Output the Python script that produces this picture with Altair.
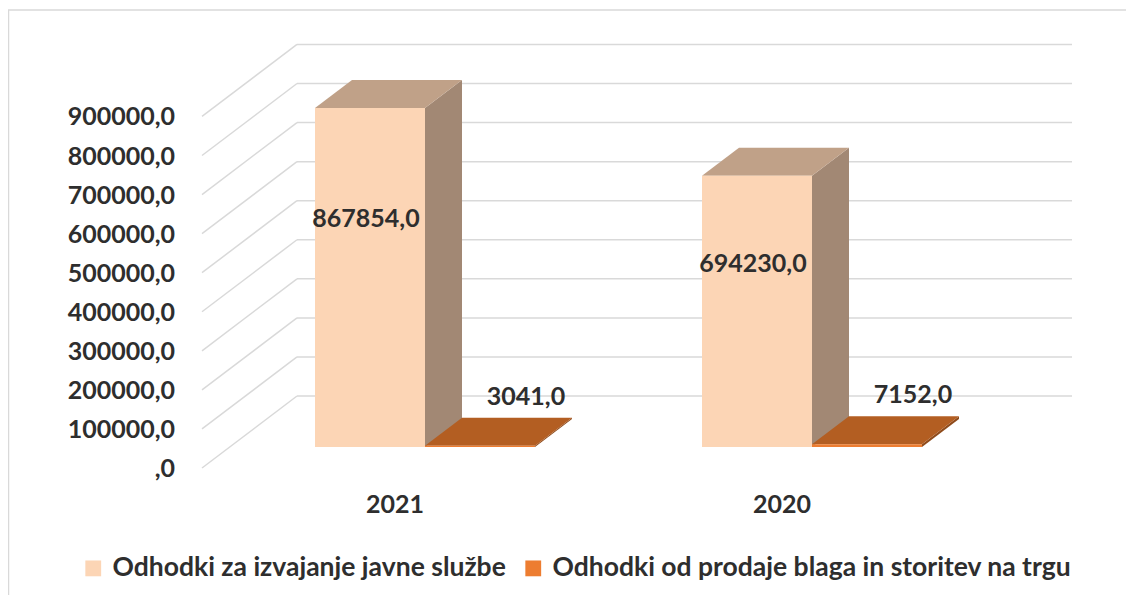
import altair as alt
import pandas as pd

# ---------------- data ----------------
years = ["2021", "2020"]
series = ["Odhodki za izvajanje javne službe",
          "Odhodki od prodaje blaga in storitev na trgu"]
values_javna = [867854.0, 694230.0]
values_trg = [3041.0, 7152.0]
tick_values = [0, 100000, 200000, 300000, 400000, 500000, 600000, 700000, 800000, 900000]
tick_labels = [",0", "100000,0", "200000,0", "300000,0", "400000,0",
               "500000,0", "600000,0", "700000,0", "800000,0", "900000,0"]

# ---------------- layout / style ----------------
W, H = 1118, 587
K = 339.0 / 867854.0          # px per value unit
BASE = 439.0                  # view y of value 0 on the bar front plane
Y_HI = BASE / K
Y_LO = Y_HI - H / K
CAT_PX = 387.0                # px between category groups
C0 = 417.0                    # view x of first group centre
X_LO = -C0 / CAT_PX
X_HI = (W - C0) / CAT_PX
BAR_U = 110.0 / CAT_PX        # bar width in category units
DX_U = 37.0 / CAT_PX          # depth offset (x)
DY_V = 28.0 / K               # depth offset (y)
WALL_BACK_V = 51.0 / K
WALL_FRONT_V = -21.0 / K

FRONT = ["#FCD5B5", "#ED7D31"]
TOP = ["#C0A188", "#B35E22"]
SIDE = ["#A28874", "#8F4B1B"]
GRID = "#D9D9D9"
TXT = "#2E2E2E"
FONT = "Lato"
FS = 25
FS_LEG = 26.5

xs = alt.Scale(domain=[X_LO, X_HI], nice=False, zero=False)
ys = alt.Scale(domain=[Y_LO, Y_HI], nice=False, zero=False)

# ---------------- tables built from the arrays ----------------
rows = []
for i, y in enumerate(years):
    for j, (s, v) in enumerate(zip(series, [values_javna[i], values_trg[i]])):
        left = i + (j - 1) * BAR_U
        rows.append(dict(year=y, series=s, bar=f"{y}-{j}", j=j, value=v,
                         left=left, right=left + BAR_U, cx=left + BAR_U / 2,
                         label=f"{v:.1f}".replace(".", ","), zero=0.0))
bars = pd.DataFrame(rows)

side_rows, top_rows = [], []
for r in rows:
    for e in (0, 1):
        side_rows.append(dict(series=r["series"], bar=r["bar"],
                              x=r["right"] + e * DX_U,
                              ytop=r["value"] + e * DY_V, ybot=e * DY_V))
        top_rows.append(dict(series=r["series"], bar=r["bar"],
                             y=r["value"] + e * DY_V,
                             xl=r["left"] + e * DX_U, xr=r["right"] + e * DX_U))
side = pd.DataFrame(side_rows)
top = pd.DataFrame(top_rows)

grid = pd.DataFrame({"tick": tick_values, "label": tick_labels})
grid["yb"] = grid["tick"] + WALL_BACK_V
grid["yf"] = grid["tick"] + WALL_FRONT_V

cats = pd.DataFrame({"year": years, "i": list(range(len(years)))})

# ---------------- layers ----------------
frame_df = pd.DataFrame({"a": [0]})
border_left = alt.Chart(frame_df).mark_rule(color=GRID, strokeWidth=1.5).encode(
    x=alt.value(0.5), y=alt.value(2), y2=alt.value(H))
border_top = alt.Chart(frame_df).mark_rule(color=GRID, strokeWidth=1.5).encode(
    x=alt.value(0), x2=alt.value(W), y=alt.value(2))

back_lines = alt.Chart(grid).mark_rule(color=GRID, strokeWidth=1.5).encode(
    y=alt.Y("yb:Q", scale=ys, axis=None),
    x=alt.value(289), x2=alt.value(1064))
side_lines = alt.Chart(grid).mark_rule(color=GRID, strokeWidth=1.5).encode(
    y=alt.Y("yf:Q", scale=ys, axis=None), y2="yb:Q",
    x=alt.value(194), x2=alt.value(289))

axis_text = alt.Chart(grid).mark_text(
    align="right", baseline="middle", font=FONT, fontSize=FS,
    fontWeight="bold", color=TXT, dy=1).encode(
    y=alt.Y("yf:Q", scale=ys, axis=None), x=alt.value(167), text="label:N")

side_face = alt.Chart(side).mark_area(orient="vertical").encode(
    x=alt.X("x:Q", scale=xs, axis=None),
    y=alt.Y("ytop:Q", scale=ys, axis=None, stack=None), y2="ybot:Q",
    detail="bar:N",
    color=alt.Color("series:N", scale=alt.Scale(domain=series, range=SIDE),
                    legend=None))

top_face = alt.Chart(top).mark_area(orient="horizontal").encode(
    y=alt.Y("y:Q", scale=ys, axis=None),
    x=alt.X("xl:Q", scale=xs, axis=None, stack=None), x2="xr:Q",
    detail="bar:N",
    color=alt.Color("series:N", scale=alt.Scale(domain=series, range=TOP),
                    legend=None))

front_face = alt.Chart(bars).mark_rect().encode(
    x=alt.X("left:Q", scale=xs, axis=None), x2="right:Q",
    y=alt.Y("zero:Q", scale=ys, axis=None), y2="value:Q",
    color=alt.Color("series:N", scale=alt.Scale(domain=series, range=FRONT),
                    legend=alt.Legend(
                        title=None, orient="none", legendX=72, legendY=547,
                        direction="horizontal", symbolType="square",
                        symbolSize=250, symbolStrokeWidth=0,
                        labelFont=FONT, labelFontSize=FS_LEG, labelFontWeight="bold",
                        labelColor=TXT, labelLimit=0, labelOffset=6,
                        columnPadding=14)))

inside_labels = alt.Chart(bars).transform_filter("datum.j == 0").transform_calculate(
    ly="datum.value * 0.673").mark_text(
    font=FONT, fontSize=FS, fontWeight="bold", color=TXT, dx=-4,
    baseline="middle").encode(
    x=alt.X("cx:Q", scale=xs, axis=None),
    y=alt.Y("ly:Q", scale=ys, axis=None), text="label:N")

outside_labels = alt.Chart(bars).transform_filter("datum.j == 1").mark_text(
    font=FONT, fontSize=FS, fontWeight="bold", color=TXT, dx=46, dy=-49,
    baseline="middle").encode(
    x=alt.X("cx:Q", scale=xs, axis=None),
    y=alt.Y("value:Q", scale=ys, axis=None), text="label:N")

cat_labels = alt.Chart(cats).mark_text(
    font=FONT, fontSize=FS, fontWeight="bold", color=TXT, dx=-30,
    baseline="middle").encode(
    x=alt.X("i:Q", scale=xs, axis=None), y=alt.value(497), text="year:N")

chart = alt.layer(
    border_left, border_top, back_lines, side_lines, axis_text,
    side_face, top_face, front_face, inside_labels, outside_labels, cat_labels
).resolve_scale(color="independent").properties(
    width=W, height=H, padding=0,
    autosize=alt.AutoSizeParams(type="none"),
    background="white"
).configure_view(stroke=None)

chart.save("out.html", embed_options={"renderer": "svg", "actions": False})
